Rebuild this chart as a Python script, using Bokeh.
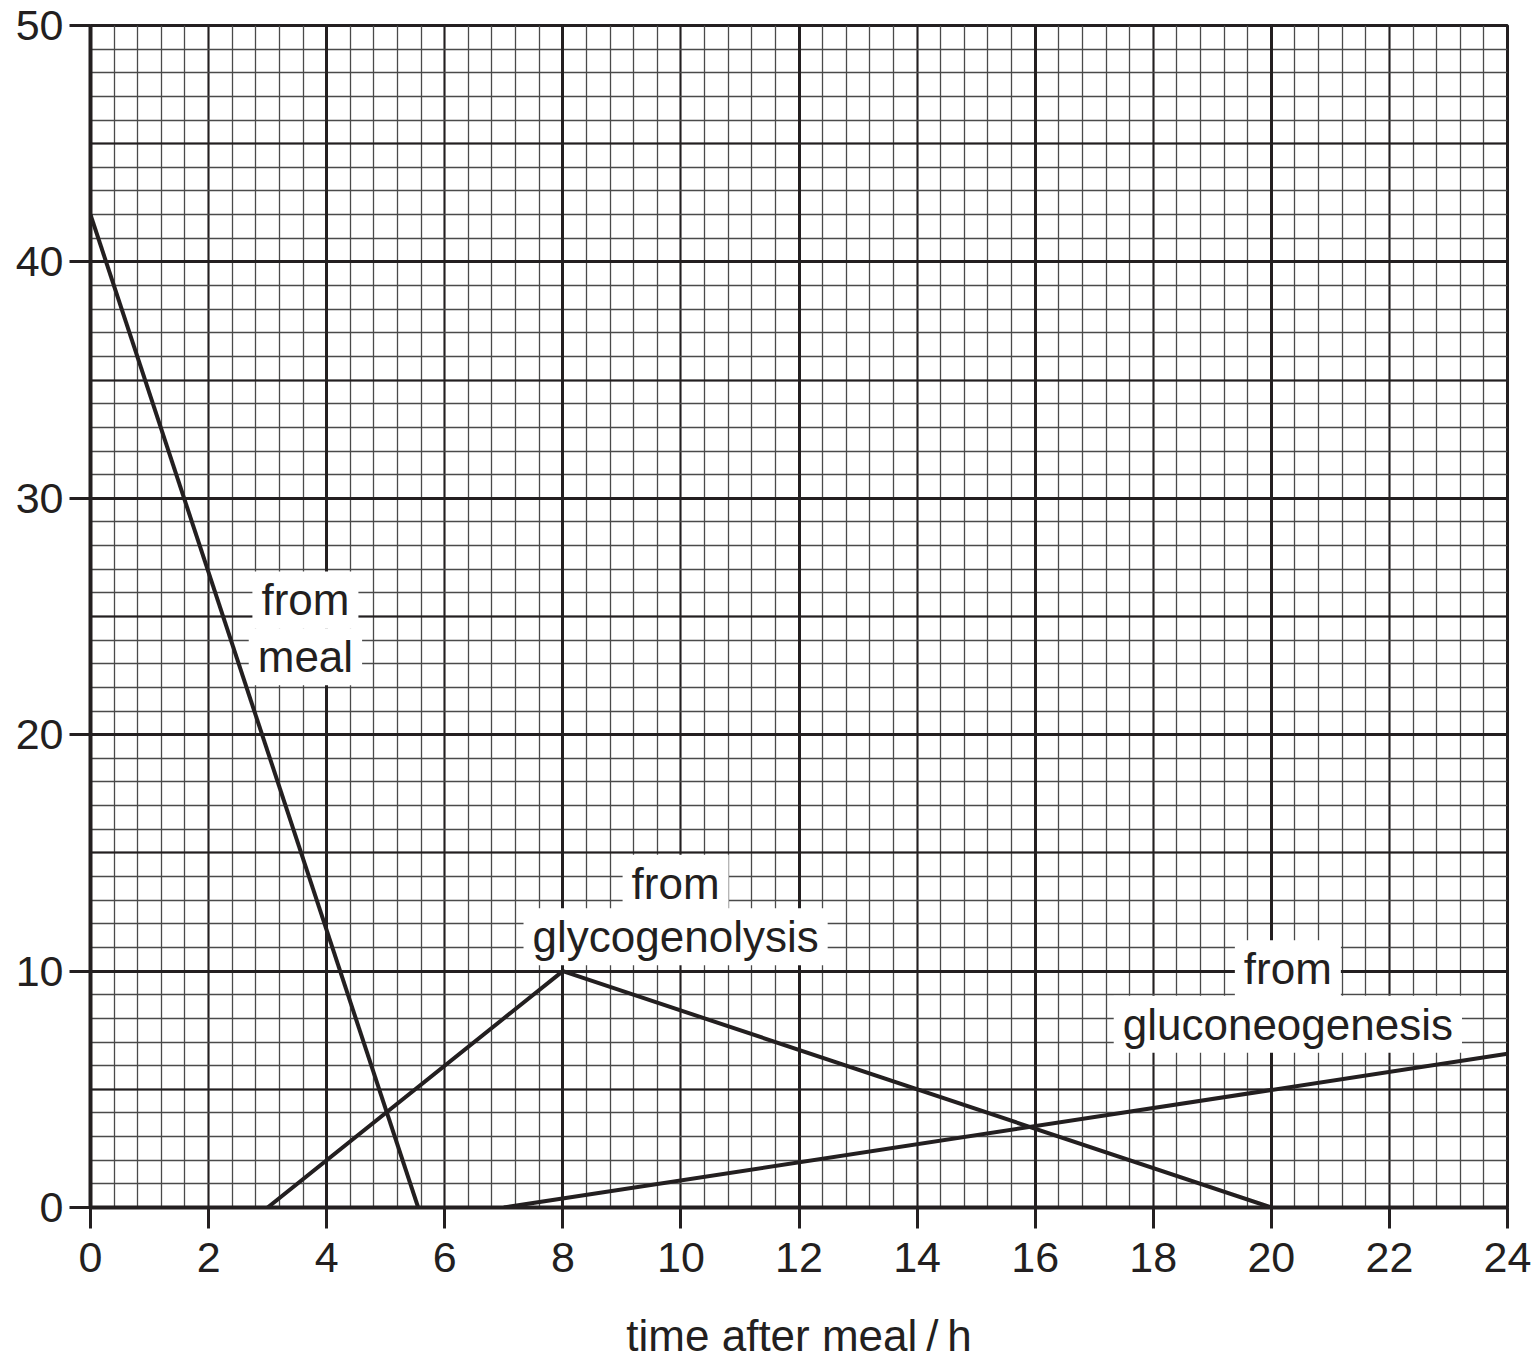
from bokeh.plotting import figure
from bokeh.models import Range1d, SingleIntervalTicker, Grid, Label
from bokeh.embed import file_html
from bokeh.resources import INLINE

# ---- data ----
meal_t = [0, 5.55]
meal_v = [42, 0]
glyco_t = [3, 8, 20]
glyco_v = [0, 10, 0]
gluco_t = [7, 24]
gluco_v = [0, 6.5]

x_label = "time after meal\u2009/\u2009h"
labels = [
    ("from", 3.64, 25.7),
    ("meal", 3.64, 23.3),
    ("from", 9.91, 13.72),
    ("glycogenolysis", 9.91, 11.45),
    ("from", 20.28, 10.1),
    ("gluconeogenesis", 20.28, 7.75),
]

INK = "#231f20"
FONT = "Liberation Sans"

p = figure(frame_width=1417, frame_height=1182, output_backend="svg",
           toolbar_location=None,
           x_range=Range1d(0, 24), y_range=Range1d(0, 50),
           min_border_left=90, min_border_right=26, min_border_top=25,
           min_border_bottom=150)
p.background_fill_color = "white"
p.border_fill_color = "white"
p.outline_line_color = INK
p.outline_line_width = 3

# axes
p.xaxis.ticker = SingleIntervalTicker(interval=2, num_minor_ticks=0)
p.yaxis.ticker = SingleIntervalTicker(interval=10, num_minor_ticks=0)
for ax in (p.xaxis[0], p.yaxis[0]):
    ax.axis_line_color = INK
    ax.axis_line_width = 4
    ax.major_tick_line_color = INK
    ax.major_tick_line_width = 3
    ax.major_tick_out = 21
    ax.major_tick_in = 0
    ax.minor_tick_out = 0
    ax.minor_tick_in = 0
    ax.major_label_text_font = FONT
    ax.major_label_text_font_size = "43px"
    ax.major_label_text_color = INK
    ax.major_label_standoff = 6
p.xaxis.major_label_standoff = 14
p.xaxis.axis_label = x_label
p.xaxis.axis_label_text_font = FONT
p.xaxis.axis_label_text_font_size = "44px"
p.xaxis.axis_label_text_font_style = "normal"
p.xaxis.axis_label_text_color = INK
p.xaxis.axis_label_standoff = 36

# grid: minor + medium
p.xgrid.ticker = SingleIntervalTicker(interval=2, num_minor_ticks=5)
p.ygrid.ticker = SingleIntervalTicker(interval=5, num_minor_ticks=5)
for g in (p.xgrid[0], p.ygrid[0]):
    g.grid_line_color = INK
    g.grid_line_width = 2
    g.minor_grid_line_color = "#4a4a4a"
    g.minor_grid_line_width = 1.3
# thick grid
p.add_layout(Grid(dimension=0, ticker=SingleIntervalTicker(interval=4),
                  grid_line_color=INK, grid_line_width=3))
p.add_layout(Grid(dimension=1, ticker=SingleIntervalTicker(interval=10),
                  grid_line_color=INK, grid_line_width=3))

# data lines
for t, v in ((meal_t, meal_v), (glyco_t, glyco_v), (gluco_t, gluco_v)):
    p.line(t, v, line_color=INK, line_width=4)

for txt, x, y in labels:
    p.add_layout(Label(x=x, y=y, text=txt, text_align="center",
                       text_baseline="alphabetic", text_font=FONT,
                       text_font_size="44px", text_color=INK,
                       background_fill_color="white", background_fill_alpha=1.0,
                       padding=(9, 4)))

open("out.html", "w").write(file_html(p, INLINE))
